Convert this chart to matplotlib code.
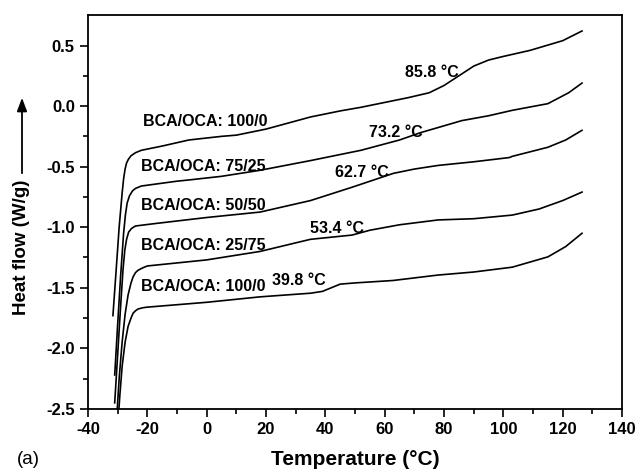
import numpy as np
import matplotlib
matplotlib.use("Agg")
import matplotlib.pyplot as plt

plt.rcParams['font.family'] = ['Liberation Sans', 'DejaVu Sans']
plt.rcParams['axes.unicode_minus'] = False

# DSC traces (temperature in C, heat flow in W/g)
t1 = [-31.6, -30.5, -29.5, -28.5, -28.0, -27.5, -27.0, -26.4, -25.5, -24.0, -22, -15, -6, 5, 10, 20, 35, 45, 52, 60, 68, 75, 80, 85, 90, 95, 100, 109, 120, 126.5]
h1 = [-1.73, -1.35, -1.0, -0.72, -0.6, -0.52, -0.47, -0.44, -0.41, -0.385, -0.365, -0.33, -0.28, -0.25, -0.24, -0.19, -0.09, -0.04, -0.01, 0.03, 0.07, 0.11, 0.17, 0.25, 0.33, 0.38, 0.41, 0.46, 0.54, 0.62]

t2 = [-31.0, -30.0, -29.0, -28.0, -27.4, -26.8, -26.0, -25.0, -24.0, -22.0, -10, -6, 5, 18, 35, 52, 65, 72, 79, 86, 95, 103, 115, 122, 126.5]
h2 = [-2.22, -1.8, -1.4, -1.05, -0.9, -0.8, -0.74, -0.7, -0.68, -0.66, -0.62, -0.61, -0.58, -0.53, -0.45, -0.365, -0.28, -0.22, -0.17, -0.12, -0.08, -0.035, 0.02, 0.11, 0.19]

t3 = [-31.0, -30.0, -29.0, -28.2, -27.6, -27.0, -26.3, -25.3, -24.0, -17.4, 0, 18, 35, 49, 63, 70, 78, 90, 102, 103, 115, 121, 126.5]
h3 = [-2.45, -2.05, -1.65, -1.35, -1.19, -1.1, -1.04, -1.01, -0.99, -0.97, -0.92, -0.875, -0.78, -0.67, -0.555, -0.52, -0.49, -0.46, -0.425, -0.415, -0.34, -0.28, -0.2]

t4 = [-30.4, -29.5, -28.5, -27.5, -26.5, -25.5, -24.8, -24.0, -23.1, -21.5, -20, 0, 18, 35, 49, 55, 65, 78, 90, 103, 112, 120, 126.5]
h4 = [-2.6, -2.25, -1.95, -1.72, -1.56, -1.46, -1.41, -1.375, -1.355, -1.335, -1.32, -1.27, -1.2, -1.1, -1.065, -1.025, -0.98, -0.94, -0.93, -0.9, -0.85, -0.78, -0.71]

t5 = [-30.0, -29.3, -28.5, -27.5, -26.5, -25.5, -24.8, -24.0, -23.1, -21.5, -20, 0, 18, 35, 39, 42, 45, 50, 62.8, 78, 90, 103, 115, 121, 126.5]
h5 = [-2.65, -2.4, -2.15, -1.95, -1.82, -1.75, -1.71, -1.69, -1.675, -1.665, -1.66, -1.62, -1.575, -1.545, -1.53, -1.5, -1.47, -1.46, -1.44, -1.395, -1.37, -1.33, -1.245, -1.16, -1.05]

curves = [(t1, h1), (t2, h2), (t3, h3), (t4, h4), (t5, h5)]

labels = ["BCA/OCA: 100/0", "BCA/OCA: 75/25", "BCA/OCA: 50/50", "BCA/OCA: 25/75", "BCA/OCA: 100/0"]
label_x = [-21.5, -22, -22, -22, -22]
label_y = [-0.13, -0.5, -0.82, -1.15, -1.49]

tg_text = ["85.8 °C", "73.2 °C", "62.7 °C", "53.4 °C", "39.8 °C"]
tg_x = [66.8, 54.7, 43.2, 34.8, 22.0]
tg_y = [0.28, -0.22, -0.55, -1.01, -1.44]

fig = plt.figure(figsize=(6.4, 4.76), dpi=100)
ax = fig.add_axes([0.1375, 0.141, 0.8345, 0.827])

for t, h in curves:
    ax.plot(t, h, color="black", lw=1.2)

for s, x, y in zip(labels, label_x, label_y):
    ax.text(x, y, s, fontsize=11.5, fontweight="bold", va="center", ha="left")
for s, x, y in zip(tg_text, tg_x, tg_y):
    ax.text(x, y, s, fontsize=11.5, fontweight="bold", va="center", ha="left")

ax.set_xlim(-40, 140)
ax.set_ylim(-2.5, 0.75)
ax.set_xticks(np.arange(-40, 141, 20))
ax.set_xticks(np.arange(-30, 140, 20), minor=True)
ax.set_yticks([-2.5, -2.0, -1.5, -1.0, -0.5, 0.0, 0.5])
ax.set_yticks(np.arange(-2.25, 0.75, 0.5), minor=True)
ax.set_yticklabels(["-2.5", "-2.0", "-1.5", "-1.0", "-0.5", "0.0", "0.5"])
ax.tick_params(which="both", direction="out", top=False, right=False, width=1.2)
ax.tick_params(which="major", length=6, labelsize=12)
ax.tick_params(which="minor", length=3.5)
for lab in ax.get_xticklabels() + ax.get_yticklabels():
    lab.set_fontweight("bold")
for sp in ax.spines.values():
    sp.set_linewidth(1.3)

ax.set_xlabel("Temperature (°C)", fontsize=15, fontweight="bold", labelpad=9)

# y label with an up arrow above it
fig.text(22 / 640, 1 - 247 / 476, "Heat flow (W/g)", rotation=90, fontsize=13.5,
         fontweight="bold", ha="center", va="center")
ax.annotate("", xy=(22, 476 - 95), xytext=(22, 476 - 176), xycoords="figure pixels",
            textcoords="figure pixels",
            arrowprops=dict(arrowstyle="-|>,head_length=0.8,head_width=0.3", color="black", lw=1.3))

fig.text(17 / 640, 1 - 460 / 476, "(a)", fontsize=13.5, ha="left", va="center")

fig.savefig("out.png", dpi=100)
